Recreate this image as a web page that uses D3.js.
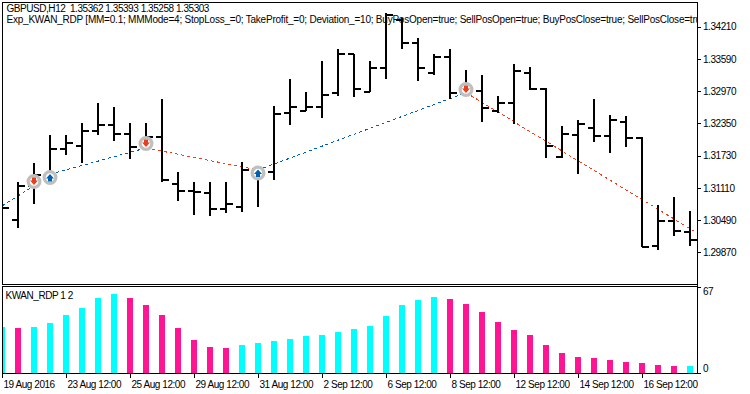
<!DOCTYPE html>
<html>
<head>
<meta charset="utf-8">
<script src="https://cdn.jsdelivr.net/npm/d3@7"></script>
<style>
html, body { margin: 0; padding: 0; background: #fff; }
svg { display: block; }
text { font-family: "Liberation Sans", Arial, sans-serif; font-size: 10px; fill: #000; white-space: pre; letter-spacing: -0.45px; }
text.expert { letter-spacing: -0.22px; }
</style>
</head>
<body>
<svg id="chart" width="750" height="394"></svg>
<script>
const WIDTH = 750;
const HEIGHT = 394;
const LEFT = 2;
const RIGHT = 697;
const MAIN_TOP = 2;
const MAIN_BOTTOM = 284;
const SUB_TOP = 286;
const SUB_BOTTOM = 373;

var opens = [1.30742, 1.30497, 1.31146, 1.31357, 1.31858, 1.31921, 1.32204, 1.32325, 1.32152, 1.31915, 1.32094,
    1.31190, 1.31050, 1.31011, 1.30703, 1.30742, 1.31459, 1.31421, 1.32556, 1.32594, 1.32671, 1.32929,
    1.33679, 1.32960, 1.33410, 1.34339, 1.33903, 1.33325, 1.33633, 1.32935, 1.32979, 1.32589, 1.32748,
    1.33325, 1.33018, 1.31709, 1.32127, 1.32267, 1.32108, 1.32371, 1.32075, 1.29997, 1.30478, 1.30267];
var highs = [1.30780, 1.31223, 1.31588, 1.32127, 1.32127, 1.32363, 1.32737, 1.32660, 1.32363, 1.32363, 1.32814,
    1.31409, 1.31217, 1.31217, 1.31217, 1.31602, 1.31492, 1.32685, 1.33198, 1.32948, 1.33545, 1.33776,
    1.33679, 1.33545, 1.34468, 1.34378, 1.33987, 1.33679, 1.33776, 1.33372, 1.33275, 1.32877, 1.33493,
    1.33429, 1.33037, 1.32300, 1.32410, 1.32814, 1.32512, 1.32487, 1.32094, 1.30774, 1.30928, 1.30659];
var lows = [1.30646, 1.30344, 1.30805, 1.31357, 1.31742, 1.31594, 1.32133, 1.32017, 1.31671, 1.31877, 1.31217,
    1.30863, 1.30594, 1.30574, 1.30632, 1.30651, 1.30748, 1.31261, 1.32325, 1.32594, 1.32460, 1.32883,
    1.32864, 1.32960, 1.33210, 1.33776, 1.33171, 1.33287, 1.32825, 1.32896, 1.32383, 1.32544, 1.32338,
    1.32993, 1.31679, 1.31679, 1.31371, 1.31986, 1.31786, 1.31902, 1.29966, 1.29909, 1.30190, 1.29986];
var closes = [1.30728, 1.31146, 1.31357, 1.31858, 1.31979, 1.32204, 1.32325, 1.32152, 1.31902, 1.32094, 1.31261,
    1.31050, 1.31030, 1.30703, 1.30805, 1.31459, 1.31415, 1.32537, 1.32671, 1.32671, 1.32902, 1.33679,
    1.33018, 1.33410, 1.34430, 1.33903, 1.33410, 1.33633, 1.32941, 1.32979, 1.32652, 1.32748, 1.33364,
    1.33012, 1.31921, 1.32146, 1.32338, 1.32108, 1.32410, 1.32075, 1.29972, 1.30478, 1.30286, 1.30113];

// indicator histogram, side: 0 = cyan, 1 = pink
var kwan = [35.8, 35.1, 35.8, 39.0, 45.2, 50.6, 58.4, 61.5, 58.4, 53.0, 45.2,
    35.1, 25.7, 20.3, 19.5, 21.8, 23.4, 24.9, 26.5, 28.8, 29.6, 31.9,
    34.3, 36.6, 44.4, 53.0, 56.9, 59.2, 57.7, 53.8, 47.5, 39.7, 33.5,
    29.6, 21.8, 15.6, 12.5, 11.7, 10.1, 8.6, 7.8, 6.2, 5.5, 5.5];
var kwanSide = [0, 1, 0, 0, 0, 0, 0, 0, 1, 1, 1,
    1, 1, 1, 1, 0, 0, 0, 0, 0, 0, 0,
    0, 0, 0, 0, 0, 0, 1, 1, 1, 1, 1,
    1, 1, 1, 1, 1, 1, 1, 1, 1, 1, 0];

// deal lines between trades
var dealBars = [0, 2, 3, 9, 16, 29, 43.44];
var dealPrices = [1.30761, 1.31146, 1.31371, 1.31877, 1.31454, 1.32941, 1.30242];
var dealSides = ["buy", "sell", "buy", "sell", "buy", "sell"];

var markerBars = [2, 3, 9, 16, 29];
var markerPrices = [1.31232, 1.31309, 1.31963, 1.31396, 1.33002];
var markerSides = ["sell", "buy", "sell", "buy", "sell"];

var priceTicks = [1.34210, 1.33590, 1.32970, 1.32350, 1.31730, 1.31110, 1.30490, 1.29870];
var kwanTicks = [0, 67];
var dateBars = [0, 4, 8, 12, 16, 20, 24, 28, 32, 36, 40];
var dateLabels = ["19 Aug 2016", "23 Aug 12:00", "25 Aug 12:00", "29 Aug 12:00", "31 Aug 12:00", "2 Sep 12:00",
    "6 Sep 12:00", "8 Sep 12:00", "12 Sep 12:00", "14 Sep 12:00", "16 Sep 12:00"];

var titleLine = "GBPUSD,H12  1.35362 1.35393 1.35258 1.35303";
var expertLine = "Exp_KWAN_RDP [MM=0.1; MMMode=4; StopLoss_=0; TakeProfit_=0; Deviation_=10; BuyPosOpen=true; SellPosOpen=true; BuyPosClose=true; SellPosClose=tru";
var subLabel = "KWAN_RDP 1 2";

var sideColor = {buy: "#0060b0", sell: "#e8401c"};

var svg = d3.select("#chart");

var x = d3.scaleLinear().domain([0, 43]).range([2, 690]);
var y = d3.scaleLinear().domain([1.34210, 1.29870]).range([26.7, 252.3]);
var yKwan = d3.scaleLinear().domain([0, 67]).range([SUB_BOTTOM, SUB_TOP + 1]);

svg.append("clipPath").attr("id", "mainClip").append("rect")
    .attr("x", LEFT).attr("y", MAIN_TOP).attr("width", RIGHT - LEFT).attr("height", MAIN_BOTTOM - MAIN_TOP);
svg.append("clipPath").attr("id", "subClip").append("rect")
    .attr("x", LEFT + 1).attr("y", SUB_TOP).attr("width", RIGHT - LEFT - 1).attr("height", SUB_BOTTOM - SUB_TOP);

var main = svg.append("g").attr("clip-path", "url(#mainClip)");

main.append("text").attr("x", 6.5).attr("y", 12).text(titleLine);
main.append("text").attr("class", "expert").attr("x", 6.5).attr("y", 23).text(expertLine);

// deal lines
var dealLine = d3.line()
    .x(function (d) { return x(d.bar); })
    .y(function (d) { return y(d.price); });

dealSides.forEach(function (side, i) {
    main.append("path")
        .attr("d", dealLine([
            {bar: dealBars[i], price: dealPrices[i]},
            {bar: dealBars[i + 1], price: dealPrices[i + 1]}
        ]))
        .attr("fill", "none")
        .attr("stroke", sideColor[side])
        .attr("stroke-width", 1)
        .attr("stroke-dasharray", "3,3")
        .attr("shape-rendering", "crispEdges");
});

// OHLC bars
var bars = d3.range(opens.length);
var barG = main.append("g").attr("shape-rendering", "crispEdges").attr("fill", "#000");

barG.selectAll(".stem").data(bars).enter().append("rect")
    .attr("x", function (i) { return x(i) - 1; })
    .attr("y", function (i) { return y(highs[i]); })
    .attr("width", 2)
    .attr("height", function (i) { return y(lows[i]) - y(highs[i]); });

barG.selectAll(".open").data(bars).enter().append("rect")
    .attr("x", function (i) { return x(i) - 6; })
    .attr("y", function (i) { return y(opens[i]) - 1; })
    .attr("width", 6)
    .attr("height", 2);

barG.selectAll(".close").data(bars).enter().append("rect")
    .attr("x", function (i) { return x(i); })
    .attr("y", function (i) { return y(closes[i]) - 1; })
    .attr("width", 7)
    .attr("height", 2);

// trade markers
var markers = main.selectAll(".marker").data(markerBars).enter().append("g")
    .attr("transform", function (d, i) { return "translate(" + x(d) + "," + y(markerPrices[i]) + ")"; });

markers.append("circle")
    .attr("r", 5.9)
    .attr("fill", "#fff")
    .attr("stroke", "#bfbfbf")
    .attr("stroke-width", 3.2);

markers.append("path")
    .attr("d", function (d, i) {
        return markerSides[i] == "sell"
            ? "M-2,-4V-1H-4L0,3.5L4,-1H2V-4Z"
            : "M-2,4V1H-4L0,-3.5L4,1H2V4Z";
    })
    .attr("fill", function (d, i) { return sideColor[markerSides[i]]; });

// indicator window
var kwanG = svg.append("g").attr("clip-path", "url(#subClip)").attr("shape-rendering", "crispEdges");

kwanG.selectAll("rect").data(kwan).enter().append("rect")
    .attr("x", function (d, i) { return x(i) - 3; })
    .attr("y", function (d) { return yKwan(d); })
    .attr("width", 6)
    .attr("height", function (d) { return SUB_BOTTOM - yKwan(d); })
    .attr("fill", function (d, i) { return kwanSide[i] ? "#ff1493" : "#00ffff"; });

svg.append("text").attr("x", 5.5).attr("y", 299).text(subLabel);

// frames
var frames = svg.append("g").attr("fill", "none").attr("stroke", "#000").attr("shape-rendering", "crispEdges");
frames.append("rect").attr("x", LEFT + 0.5).attr("y", MAIN_TOP + 0.5)
    .attr("width", RIGHT - LEFT).attr("height", MAIN_BOTTOM - MAIN_TOP);
frames.append("rect").attr("x", LEFT + 0.5).attr("y", SUB_TOP + 0.5)
    .attr("width", RIGHT - LEFT).attr("height", SUB_BOTTOM - SUB_TOP);
frames.append("line").attr("x1", RIGHT + 0.5).attr("x2", RIGHT + 0.5)
    .attr("y1", MAIN_BOTTOM).attr("y2", SUB_TOP);

// axes
var priceAxis = d3.axisRight(y)
    .tickValues(priceTicks)
    .tickFormat(d3.format(".5f"))
    .tickSize(4)
    .tickPadding(2);

svg.append("g").attr("transform", "translate(" + RIGHT + ",0)").call(priceAxis)
    .call(function (g) { g.select(".domain").remove(); });

var kwanAxis = d3.axisRight(yKwan)
    .tickValues(kwanTicks)
    .tickFormat(d3.format("d"))
    .tickSize(4)
    .tickPadding(2);

svg.append("g").attr("transform", "translate(" + RIGHT + ",0)").call(kwanAxis)
    .call(function (g) { g.select(".domain").remove(); })
    .call(function (g) {
        g.selectAll("text").attr("dy", function (d) { return d == 0 ? "-0.15em" : "0.75em"; });
    });

var dateAxis = d3.axisBottom(x)
    .tickValues(dateBars)
    .tickFormat(function (d, i) { return dateLabels[i]; })
    .tickSize(5)
    .tickPadding(2);

svg.append("g").attr("transform", "translate(0," + SUB_BOTTOM + ")").call(dateAxis)
    .call(function (g) { g.select(".domain").remove(); })
    .call(function (g) {
        g.selectAll("text").attr("text-anchor", "start").attr("x", 1).attr("dy", "0.75em");
    });

svg.selectAll(".tick line").attr("stroke", "#000").attr("shape-rendering", "crispEdges");
svg.selectAll("g").filter(function () { return this.getAttribute("font-size"); })
    .attr("font-size", null).attr("font-family", null);
</script>
</body>
</html>
